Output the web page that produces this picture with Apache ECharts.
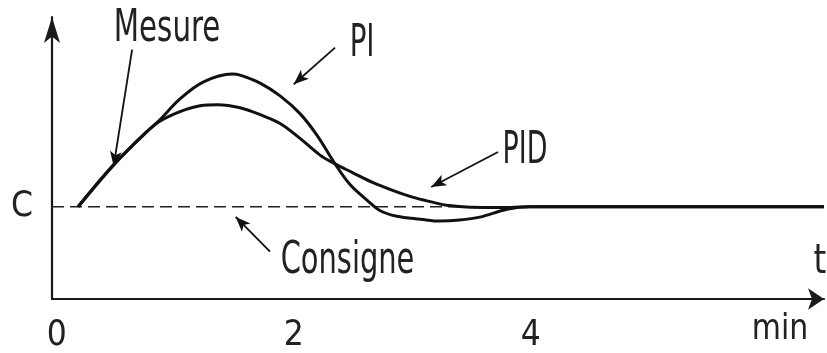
<!DOCTYPE html>
<html><head><meta charset="utf-8">
<script src="https://cdn.jsdelivr.net/npm/echarts@6/dist/echarts.min.js"></script>
<style>html,body{margin:0;padding:0;background:#fff}#c{width:827px;height:353px}</style>
</head><body><div id="c"></div>
<script>
// ---- data (time in min, response relative to set-point C = 1) ----
const xTickValues = [0, 2, 4];
const yTickValues = [1];
const yTickLabels = ['C'];
const setpointLevel = 1;
const setpointTime = [-0.04, 6.475];

const piTime  = [0.18, 0.48, 0.745, 0.86, 1.04, 1.235, 1.48, 1.547, 1.716, 1.885, 2.053, 2.197, 2.349, 2.475, 2.62, 2.73, 2.87, 3.07, 3.235, 3.40, 3.57, 3.80, 3.99, 4.4, 6.475];
const piValue = [1.0, 1.455, 1.797, 1.93, 2.17, 2.353, 2.44, 2.428, 2.342, 2.203, 2.011, 1.775, 1.465, 1.241, 1.07, 0.957, 0.898, 0.866, 0.845, 0.856, 0.888, 0.973, 1.0, 1.0, 1.0];

const pidTime  = [0.18, 0.48, 0.745, 0.86, 1.04, 1.21, 1.36, 1.547, 1.716, 1.885, 2.053, 2.222, 2.349, 2.50, 2.67, 2.84, 3.01, 3.18, 3.29, 3.49, 3.74, 3.99, 4.4, 6.475];
const pidValue = [1.0, 1.455, 1.797, 1.92, 2.032, 2.096, 2.107, 2.075, 2.0, 1.904, 1.743, 1.561, 1.465, 1.369, 1.262, 1.176, 1.102, 1.048, 1.016, 0.995, 0.993, 1.0, 1.0, 1.0];

// annotation arrows (data coords): tail -> head
const arrowTails = [[0.636, 2.706], [2.349, 2.727], [3.724, 1.594], [1.800, 0.513]];
const arrowHeads = [[0.480, 1.440], [2.000, 2.330], [3.160, 1.215], [1.510, 0.890]];
// annotation texts and anchors (data coords)
const noteTexts   = ['Mesure', 'PI', 'PID', 'Consigne', 't', 'min'];
const noteAnchors = [[0.931, 2.92], [2.577, 2.765], [3.952, 1.60], [2.454, 0.41], [6.44, 0.40], [6.104, -0.34]];

const FONT = "'Liberation Sans Narrow','DejaVu Sans Condensed','Roboto Condensed','Liberation Sans',sans-serif";
const zip = (a, b) => a.map((v, i) => [v, b[i]]);

const chart = echarts.init(document.getElementById('c'), null, {renderer: 'canvas'});
const option = {
  animation: false,
  backgroundColor: '#fff',
  grid: {left: 52, right: 3, top: 17, bottom: 50, containLabel: false},
  xAxis: {
    type: 'value', min: -0.04, max: 6.475,
    splitLine: {show: false}, axisTick: {show: false},
    axisLine: {show: true, onZero: false, symbol: ['none', 'arrow'], symbolSize: [16, 16],
      lineStyle: {color: '#1a1a1a', width: 2.2}},
    axisLabel: {customValues: xTickValues, margin: 19, fontSize: 35, fontFamily: FONT, color: '#222',
      formatter: v => String(v)}
  },
  yAxis: {
    type: 'value', min: 0, max: 3.059,
    splitLine: {show: false}, axisTick: {show: false},
    axisLine: {show: true, onZero: false, symbol: ['none', 'arrow'], symbolSize: [12, 26],
      lineStyle: {color: '#1a1a1a', width: 2.2}},
    axisLabel: {customValues: yTickValues, margin: 19, fontSize: 35, fontFamily: FONT, color: '#222',
      formatter: v => yTickLabels[yTickValues.indexOf(v)] || ''}
  },
  series: [
    {
      name: 'Consigne', type: 'line', showSymbol: false, silent: true,
      data: setpointTime.map(t => [t, setpointLevel]),
      lineStyle: {color: '#222', width: 1.6, type: [12, 6]},
      z: 1,
      markLine: {
        silent: true, symbol: ['none', 'arrow'], symbolSize: [9, 15],
        lineStyle: {color: '#111', width: 1.8, type: 'solid'},
        label: {show: false},
        data: arrowTails.map((t, i) => [{coord: t}, {coord: arrowHeads[i]}])
      }
    },
    {
      name: 'PI', type: 'line', showSymbol: false, smooth: 0.35, silent: true,
      data: zip(piTime, piValue), lineStyle: {color: '#111', width: 3}, z: 3
    },
    {
      name: 'PID', type: 'line', showSymbol: false, smooth: 0.35, silent: true,
      data: zip(pidTime, pidValue), lineStyle: {color: '#111', width: 3}, z: 3
    }
  ]
};
chart.setOption(option);

const noteSizes = [44, 44, 44, 44, 40, 35];
const noteScale = [0.74, 0.70, 0.68, 0.73, 0.9, 0.95];
chart.setOption({
  graphic: noteTexts.map((txt, i) => {
    const p = chart.convertToPixel({gridIndex: 0}, noteAnchors[i]);
    return {
      type: 'text', x: p[0], y: p[1], scaleX: noteScale[i], silent: true,
      style: {text: txt, fontSize: noteSizes[i], fontFamily: FONT, fill: '#222', align: 'center', verticalAlign: 'middle'}
    };
  })
});
</script></body></html>
